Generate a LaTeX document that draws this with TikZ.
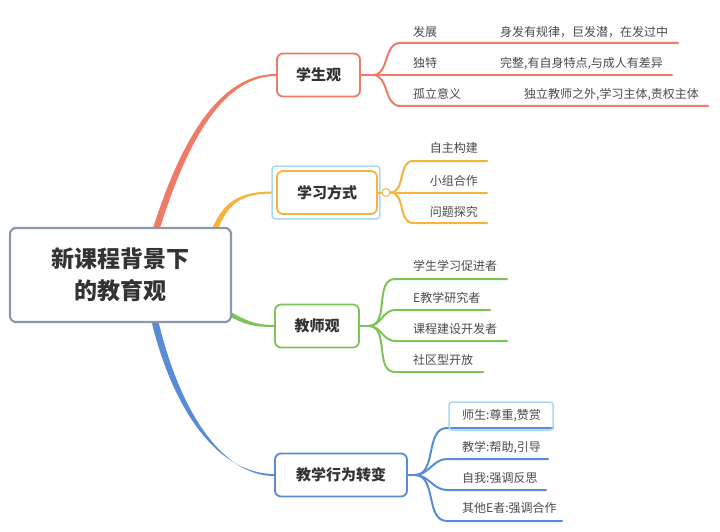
\documentclass[tikz,border=0pt]{standalone}
\usepackage{fontspec}
\setmainfont{Noto Sans CJK SC}
\usepackage{tikz}
\usetikzlibrary{positioning}

\definecolor{cred}{HTML}{EF7A66}
\definecolor{corange}{HTML}{F5B43D}
\definecolor{cgreen}{HTML}{7CC35A}
\definecolor{cblue}{HTML}{5A8BD6}
\definecolor{cgray}{HTML}{8C97A8}
\definecolor{csel}{HTML}{A8D8F6}
\definecolor{ctext}{HTML}{333333}
\definecolor{cleaf}{HTML}{4A4A4A}

\pgfdeclarelayer{bg}
\pgfsetlayers{bg,main}

\begin{document}
\begin{tikzpicture}[
    x=1pt, y=-1pt, % pixel coordinates, y runs downwards
    root/.style={draw=cgray, line width=2.2pt, rounded corners=6pt, fill=white, minimum width=221pt, minimum height=94pt, align=center, text=ctext, font=\fontsize{23}{32}\selectfont\bfseries},
    topic/.style={rounded corners=6pt, line width=1.8pt, fill=white, minimum height=43pt, text=ctext, font=\fontsize{15}{18}\selectfont\bfseries},
    leaf/.style={anchor=base west, inner sep=0pt, text=cleaf, font=\fontsize{12}{14}\selectfont},
    leafr/.style={leaf, anchor=base east},
    twig/.style={line width=2pt, line cap=round}
]
    \useasboundingbox (0,0) rectangle (720,532);

    % Central topic
    \node [root] (root) at (120.5,275) {新课程背景下\\的教育观};

    % Main topics
    \node [topic, draw=cred, minimum width=83pt] (xsg) at (318.5,75) {学生观};
    \node [topic, draw=corange, minimum width=100pt] (xxfs) at (327,192.5) {学习方式};
    \draw [csel, line width=1.5pt, rounded corners=3pt] ([shift={(-4pt,4pt)}]xxfs.north west) rectangle ([shift={(2pt,-4pt)}]xxfs.south east);
    \node [topic, draw=cgreen, minimum width=84pt] (jsg) at (317,326) {教师观};
    \node [topic, draw=cblue, minimum width=132pt] (jxzb) at (341,475) {教学行为转变};

    % Tapered branches from the centre, behind the boxes
    \begin{pgfonlayer}{bg}
    \fill [cred] ([xshift=31pt,yshift=-6pt]root.north) .. controls +(25,-80) and +(-62,0) .. ([yshift=1pt]xsg.west)
        -- ([yshift=-1pt]xsg.west) .. controls +(-58,0) and +(24,-78) .. ([xshift=38pt,yshift=-6pt]root.north) -- cycle;
    \fill [corange] ([xshift=90pt,yshift=-6pt]root.north) .. controls +(12,-32) and +(-32,0) .. ([xshift=-4pt,yshift=1pt]xxfs.west)
        -- ([xshift=-4pt,yshift=-1pt]xxfs.west) .. controls +(-30,0) and +(11,-30) .. ([xshift=96pt,yshift=-6pt]root.north) -- cycle;
    \fill [cgreen] ([xshift=-5pt,yshift=-35pt]root.east) .. controls +(18,10) and +(-20,0) .. ([yshift=1pt]jsg.west)
        -- ([yshift=-1pt]jsg.west) .. controls +(-20,0) and +(18,10) .. ([xshift=-5pt,yshift=-40pt]root.east) -- cycle;
    \fill [cblue] ([xshift=30pt,yshift=6pt]root.south) .. controls +(22,95) and +(-55,0) .. ([yshift=1pt]jxzb.west)
        -- ([yshift=-1pt]jxzb.west) .. controls +(-52,0) and +(21,93) .. ([xshift=37pt,yshift=6pt]root.south) -- cycle;
    \end{pgfonlayer}

    % 学生观
    \coordinate (f1) at ([xshift=12pt]xsg.east);
    \coordinate (a11) at (400,43);  \coordinate (b11) at (678,43);
    \coordinate (a12) at (400,75);  \coordinate (b12) at (672,75);
    \coordinate (a13) at (400,106); \coordinate (b13) at (708,106);
    \draw [twig, cred] (xsg.east) -- (f1);
    \draw [twig, cred] (f1) to[out=0,in=180] (a11) -- (b11);
    \draw [twig, cred] (f1) -- (a12) -- (b12);
    \draw [twig, cred] (f1) to[out=0,in=180] (a13) -- (b13);
    \node [leaf] (t11) at (413,37) {发展};
    \node [leaf] (u11) at (500,37) {身发有规律，巨发潜，在发过中};
    \node [leaf] (t12) at (413,68) {独特};
    \node [leaf] (u12) at (500,68) {完整,有自身特点,与成人有差异};
    \node [leaf] (t13) at (413,99) {孤立意义};
    \node [leaf] (u13) at (524,99) {独立教师之外,学习主体,责权主体};

    % 学习方式
    \node [circle, draw=corange, fill=white, line width=1pt, inner sep=0pt, minimum size=8pt] (f2) at (386,192.5) {};
    \draw [twig, corange] (xxfs.east) -- (f2.west);
    \coordinate (a21) at (413,161);   \coordinate (b21) at (487,161);
    \coordinate (a22) at (413,192.5); \coordinate (b22) at (487,192.5);
    \coordinate (a23) at (413,223);   \coordinate (b23) at (487,223);
    \draw [twig, corange] (f2.east) to[out=0,in=180] (a21) -- (b21);
    \draw [twig, corange] (f2.east) -- (a22) -- (b22);
    \draw [twig, corange] (f2.east) to[out=0,in=180] (a23) -- (b23);
    \node [leafr] (t21) at (478,153) {自主构建};
    \node [leafr] (t22) at (478,185) {小组合作};
    \node [leafr] (t23) at (478,216) {问题探究};

    % 教师观
    \coordinate (f3) at ([xshift=9pt]jsg.east);
    \coordinate (a31) at (395,279); \coordinate (b31) at (507,279);
    \coordinate (a32) at (395,310); \coordinate (b32) at (490,310);
    \coordinate (a33) at (395,341); \coordinate (b33) at (507,341);
    \coordinate (a34) at (395,372); \coordinate (b34) at (483,372);
    \draw [twig, cgreen] (jsg.east) -- (f3);
    \foreach \i in {1,...,4}
        \draw [twig, cgreen] (f3) to[out=0,in=180] (a3\i) -- (b3\i);
    \node [leaf] (t31) at (413,270) {学生学习促进者};
    \node [leaf] (t32) at (413,302.5) {E教学研究者};
    \node [leaf] (t33) at (413,333.5) {课程建设开发者};
    \node [leaf] (t34) at (413,364.5) {社区型开放};

    % 教学行为转变
    \coordinate (f4) at ([xshift=7pt]jxzb.east);
    \coordinate (a41) at (447,428); \coordinate (b41) at (553,428);
    \coordinate (a42) at (447,459); \coordinate (b42) at (548,459);
    \coordinate (a43) at (447,490); \coordinate (b43) at (546,490);
    \coordinate (a44) at (447,521); \coordinate (b44) at (562,521);
    \draw [twig, cblue] (jxzb.east) -- (f4);
    \foreach \i in {1,...,4}
        \draw [twig, cblue] (f4) to[out=0,in=180] (a4\i) -- (b4\i);
    \node [leaf] (t41) at (462,419.5) {师生:尊重,赞赏};
    \node [leaf] (t42) at (462,451.5) {教学:帮助,引导};
    \node [leaf] (t43) at (462,482.5) {自我:强调反思};
    \node [leaf] (t44) at (462,512.5) {其他E者:强调合作};
    \draw [csel, line width=1.5pt, rounded corners=3pt] (449,402) rectangle (553,430);
\end{tikzpicture}
\end{document}
